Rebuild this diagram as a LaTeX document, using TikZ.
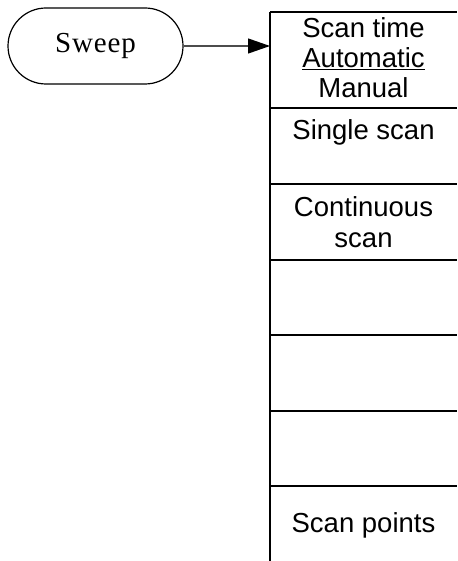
\documentclass[tikz,border=0pt]{standalone}
\usepackage{fontspec}
\setmainfont{Liberation Sans}
\newfontfamily\keyfont[LetterSpace=3]{Liberation Serif}
\usetikzlibrary{arrows.meta}

\tikzset{
  softkey/.style={draw, line width=1.2pt, rounded corners=38pt,
    minimum width=175pt, minimum height=76pt, inner sep=0pt,
    font=\keyfont\fontsize{29}{30}\selectfont},
  menutext/.style={anchor=base, inner sep=0pt,
    font=\fontsize{27.5}{30}\selectfont},
  menuline/.style={line width=1.3pt},
}

\begin{document}
\begin{tikzpicture}[x=1pt, y=-1pt]
\useasboundingbox (0,0) rectangle (457,561);

% Tecla de varredura
\node[softkey] (sweep) at (95.5,46) {Sweep};

% Coluna do menu
\draw[menuline] (270,12) -- (270,561);
\foreach \y in {12,108,184,260,335,411,486}
  \draw[menuline] (270,\y) -- (457,\y);

% Seta da tecla para o menu
\coordinate (menu) at (270,46);
\draw[line width=1.2pt, draw=black!70,
  -{Triangle[length=22pt,width=15pt,color=black]}] (sweep.east) -- (menu);

% Textos do menu
\node[menutext] (scantime) at (363.5,38) {Scan time};
\node[menutext] (auto) at (363.5,68) {\underline{Automatic}};
\node[menutext] (manual) at (363.5,98) {Manual};
\node[menutext] (single) at (363.5,140) {Single scan};
\node[menutext] (cont) at (363.5,216) {Continuous};
\node[menutext] (contscan) at (363.5,247) {scan};
\node[menutext] (points) at (363.5,532) {Scan points};

\end{tikzpicture}
\end{document}
